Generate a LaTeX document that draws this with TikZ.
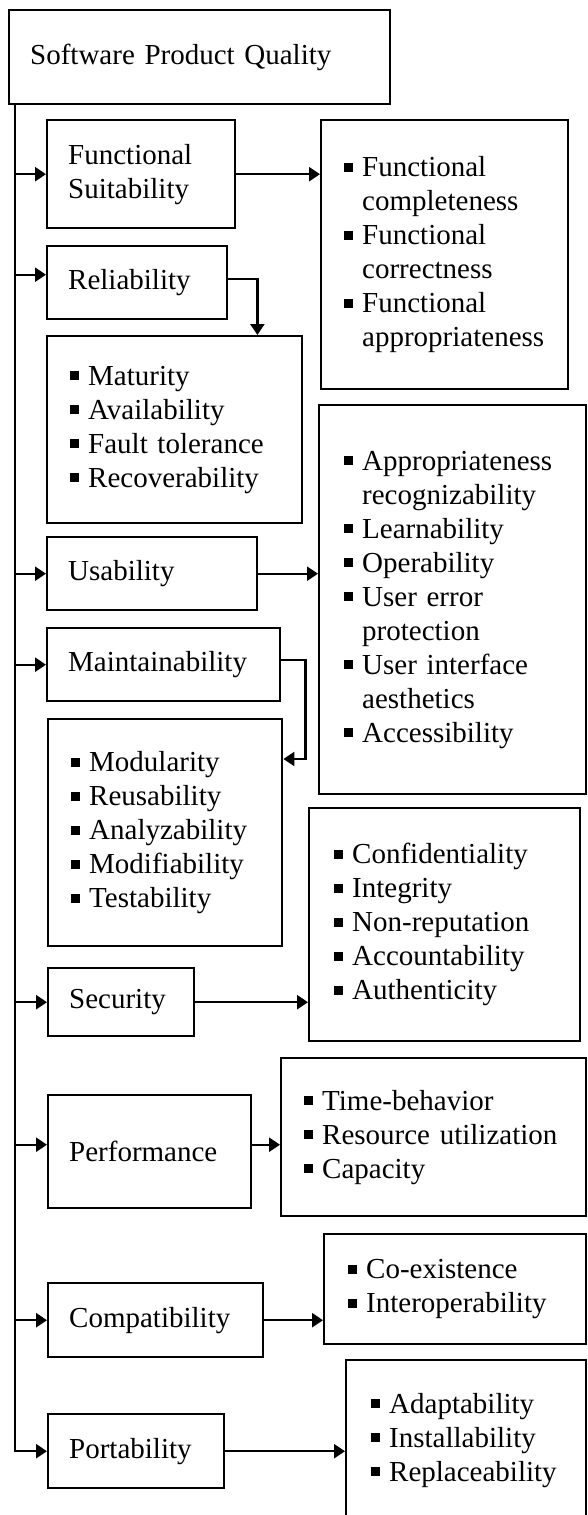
\documentclass[tikz,border=0pt]{standalone}
\usepackage{fontspec}
\setmainfont{Liberation Serif}
\usetikzlibrary{arrows.meta, calc}
\tikzset{cat/.style = {draw, line width=2.4pt, rectangle, anchor=north west, inner xsep=21pt, inner ysep=0pt, align=left, font=\fontsize{29}{34}\selectfont}}
\tikzset{list/.style = {cat, inner xsep=23pt}}
\tikzset{arr/.style = {line width=2.4pt, -{Triangle[length=11pt, width=14pt]}}}
\newcommand{\itm}[1]{\mbox{\makebox[18pt][l]{\raisebox{5pt}{\rule{9pt}{9pt}}}#1}}
\newcommand{\cnt}[1]{\mbox{\hspace*{18pt}#1}}

\begin{document}
\begin{tikzpicture}[x=1pt, y=-1pt]
        \useasboundingbox (0,0) rectangle (587,1515);
        \clip (0,0) rectangle (587,1515);

        \node [cat, text width=339pt, minimum height=94pt] (spq) at (8,9) {Software Product Quality};

        \node [cat, text width=146pt, minimum height=108pt] (fs) at (46,119) {Functional\\Suitability};
        \node [list, text width=201pt, minimum height=269pt] (fsd) at (320,119)
            {\itm{Functional}\\\cnt{completeness}\\\itm{Functional}\\\cnt{correctness}\\\itm{Functional}\\\cnt{appropriateness}};

        \node [cat, text width=138pt, minimum height=73pt] (rel) at (46,245) {Reliability};
        \node [list, text width=209pt, minimum height=187pt] (reld) at (46,335)
            {\itm{Maturity}\\\itm{Availability}\\\itm{Fault tolerance}\\\itm{Recoverability}};

        \node [cat, text width=168pt, minimum height=73pt] (usa) at (46,536) {Usability};
        \node [list, inner xsep=25pt, text width=217pt, minimum height=389pt] (usad) at (318,404)
            {\itm{Appropriateness}\\\cnt{recognizability}\\\itm{Learnability}\\\itm{Operability}\\\itm{User error}\\\cnt{protection}\\\itm{User interface}\\\cnt{aesthetics}\\\itm{Accessibility}};

        \node [cat, text width=191pt, minimum height=73pt] (mai) at (46,627) {Maintainability};
        \node [list, text width=188pt, minimum height=227pt] (maid) at (47,718)
            {\itm{Modularity}\\\itm{Reusability}\\\itm{Analyzability}\\\itm{Modifiability}\\\itm{Testability}};

        \node [cat, text width=104pt, minimum height=68pt] (sec) at (47,967) {Security};
        \node [list, inner xsep=25pt, text width=221pt, minimum height=233pt] (secd) at (308,807)
            {\itm{Confidentiality}\\\itm{Integrity}\\\itm{Non-reputation}\\\itm{Accountability}\\\itm{Authenticity}};

        \node [cat, text width=161pt, minimum height=113pt] (perf) at (47,1094) {Performance};
        \node [list, text width=259pt, minimum height=158pt] (perfd) at (280,1057)
            {\itm{Time-behavior}\\\itm{Resource utilization}\\\itm{Capacity}};

        \node [cat, text width=173pt, minimum height=74pt] (comp) at (47,1282) {Compatibility};
        \node [list, inner xsep=24pt, text width=214pt, minimum height=110pt] (compd) at (323,1233)
            {\itm{Co-existence}\\\itm{Interoperability}};

        \node [cat, text width=134pt, minimum height=74pt] (port) at (47,1413) {Portability};
        \node [list, inner xsep=25pt, text width=190pt, minimum height=160pt] (portd) at (345,1359)
            {\itm{Adaptability}\\\itm{Installability}\\\itm{Replaceability}};

        % trunk and branches
        \coordinate (trunk) at ([xshift=7pt]spq.south west);
        \draw [arr] (trunk) |- (port.west);
        \foreach \n/\s in {fs/0pt, rel/8pt, usa/0pt, mai/0pt, sec/0pt, perf/7pt, comp/0pt} {
            \coordinate (in) at ([yshift=\s]\n.west);
            \draw [arr] (trunk |- in) -- (in);
        }

        \draw [arr] (fs.east) -- (fs.east -| fsd.west);
        \draw [arr] ([yshift=4pt]rel.east) -| ([xshift=-46pt]reld.north east);
        \draw [arr] (usa.east) -- (usa.east -| usad.west);
        \draw [arr] ([yshift=5pt]mai.east) -| ([xshift=22pt, yshift=-41pt]maid.north east) -- ([yshift=-41pt]maid.north east);
        \draw [arr] (sec.east) -- (sec.east -| secd.west);
        \coordinate (out) at ([yshift=7pt]perf.east);
        \draw [arr] (out) -- (out -| perfd.west);
        \draw [arr] (comp.east) -- (comp.east -| compd.west);
        \draw [arr] (port.east) -- (port.east -| portd.west);
    \end{tikzpicture}
\end{document}
